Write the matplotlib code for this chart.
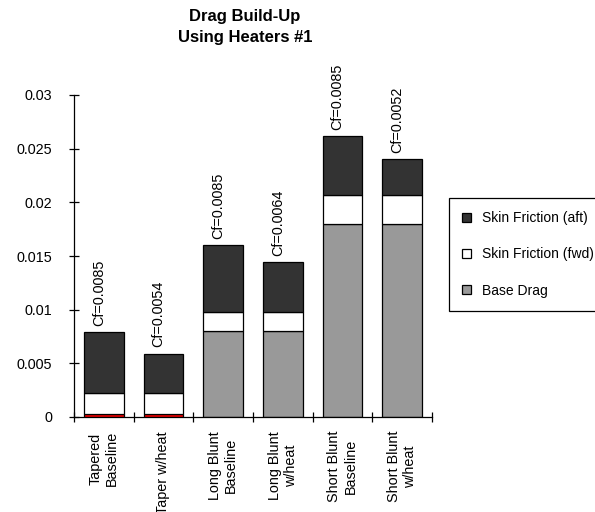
import numpy as np
import matplotlib
matplotlib.use('Agg')
import matplotlib.pyplot as plt
from matplotlib.patches import Patch

plt.rcParams['font.family'] = ['Liberation Sans', 'DejaVu Sans']

##############################
# DATA
##############################
categories = ['Tapered\nBaseline', 'Taper w/heat', 'Long Blunt\nBaseline',
              'Long Blunt\nw/heat', 'Short Blunt\nBaseline', 'Short Blunt\nw/heat']
base_drag = [0.0003, 0.0003, 0.0080, 0.0080, 0.0180, 0.0180]
skin_fwd = [0.0019, 0.0019, 0.0018, 0.0018, 0.0027, 0.0027]
skin_aft = [0.0057, 0.0037, 0.0062, 0.0046, 0.0055, 0.0033]
cf_labels = ['Cf=0.0085', 'Cf=0.0054', 'Cf=0.0085', 'Cf=0.0064', 'Cf=0.0085', 'Cf=0.0052']
base_colors = ['red', 'red', '#999999', '#999999', '#999999', '#999999']

yticks = [0, 0.005, 0.01, 0.015, 0.02, 0.025, 0.03]
ytick_labels = ['0', '0.005', '0.01', '0.015', '0.02', '0.025', '0.03']

##############################
# PLOT
##############################
W, H = 595, 512
fig = plt.figure(figsize=(W / 100, H / 100), dpi=100)
ax = fig.add_axes([74 / W, (H - 417) / H, 358 / W, 322 / H])

x = np.arange(len(categories))
base = np.array(base_drag)
fwd = np.array(skin_fwd)
aft = np.array(skin_aft)
bw = 0.67
lw = 0.9

ax.bar(x, base, bw, color=base_colors, edgecolor='black', linewidth=lw)
ax.bar(x, fwd, bw, bottom=base, color='white', edgecolor='black', linewidth=lw)
ax.bar(x, aft, bw, bottom=base + fwd, color='#333333', edgecolor='black', linewidth=lw)

tops = base + fwd + aft
for xi, top, lab in zip(x, tops, cf_labels):
    ax.annotate(lab, (xi, top), xytext=(-3.5, 4.5), textcoords='offset points',
                rotation=90, ha='center', va='bottom', fontsize=10.4)

ax.set_xlim(-0.5, len(categories) - 0.5)
ax.set_ylim(0, 0.03)
ax.set_yticks(yticks, ytick_labels)
ax.tick_params(axis='y', direction='inout', length=7, width=0.9, pad=12.3, labelsize=10.4)

# ticks at category boundaries, labels at centres
ax.set_xticks(np.arange(len(categories) + 1) - 0.5, [''] * (len(categories) + 1))
ax.tick_params(axis='x', which='major', direction='inout', length=7, width=0.9)
ax.set_xticks(x, categories, minor=True)
ax.tick_params(axis='x', which='minor', length=0, pad=10, labelsize=10.4)
for t in ax.get_xticklabels(minor=True):
    t.set_rotation(90)
    t.set_multialignment('center')
    t.set_va('top')

for side in ['top', 'right']:
    ax.spines[side].set_visible(False)
for side in ['left', 'bottom']:
    ax.spines[side].set_linewidth(0.9)

fig.text(245 / W, 1 - 27 / H, 'Drag Build-Up\nUsing Heaters #1', ha='center', va='center',
         fontsize=12, fontweight='bold', linespacing=1.45)

handles = [Patch(facecolor='#333333', edgecolor='black', linewidth=lw),
           Patch(facecolor='white', edgecolor='black', linewidth=lw),
           Patch(facecolor='#999999', edgecolor='black', linewidth=lw)]
fig.legend(handles, ['Skin Friction (aft)', 'Skin Friction (fwd)', 'Base Drag'],
           loc='upper left', bbox_to_anchor=(449 / W, 1 - 198 / H), borderaxespad=0,
           fontsize=10, handlelength=0.6, handleheight=0.6, handletextpad=0.8,
           labelspacing=1.6, borderpad=0.95, fancybox=False, edgecolor='black',
           framealpha=1).get_frame().set_linewidth(0.9)

fig.savefig('out.png', dpi=100)
